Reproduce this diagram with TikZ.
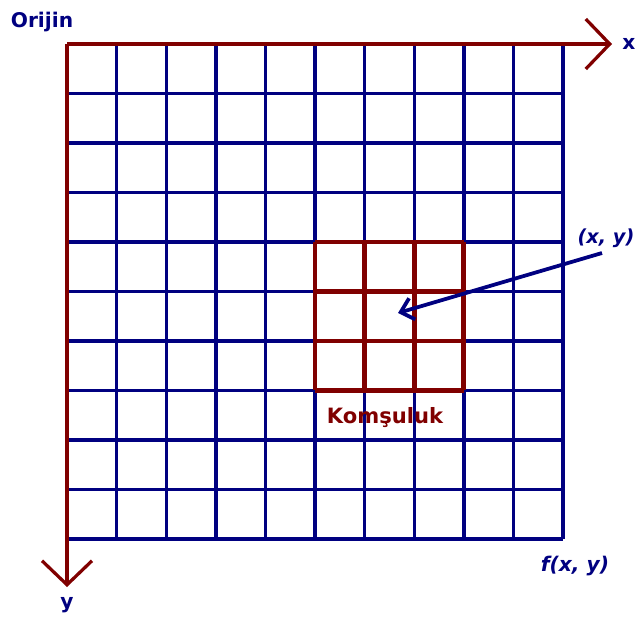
\documentclass[tikz,border=0pt]{standalone}
\usepackage{fontspec}
\setmainfont{DejaVu Sans}
\usetikzlibrary{arrows.meta,positioning}
\definecolor{gridblue}{RGB}{0,0,128}
\definecolor{axisred}{RGB}{128,0,0}

\begin{document}
\begin{tikzpicture}[
  x=0.02cm, y=-0.02cm,
  gridline/.style={draw=gridblue, line width=0.068cm},
  nbline/.style={draw=axisred, line width=0.095cm},
  axis/.style={axisred, line width=0.065cm,
               -{Straight Barb[length=0.48cm, width=1cm]}},
  pointer/.style={gridblue, line width=0.075cm,
                  -{Straight Barb[length=0.24cm, width=0.44cm]}},
  lbl/.style={font=\fontsize{11.5}{13}\selectfont\bfseries, inner sep=0pt,
              text=gridblue},
]
  \useasboundingbox (0,0) rectangle (636,619);

  % ── IMAGE GRID ──
  \foreach \i in {0,...,10} {
    \draw[gridline] ({67+\i*49.6},44) -- ({67+\i*49.6},539);
    \draw[gridline] (67,{44+\i*49.5}) -- (563,{44+\i*49.5});
  }

  % ── NEIGHBOURHOOD 3x3 ──
  \foreach \i in {0,...,3} {
    \draw[nbline] ({315+\i*49.6},242) -- ({315+\i*49.6},390);
    \draw[nbline] (315,{242+\i*49.5}) -- (464,{242+\i*49.5});
  }
  \coordinate (nbsouth) at (385,390);
  \coordinate (centre) at (398,313);

  % ── AXES ──
  \coordinate (origin) at (67,44);
  \coordinate (xend) at (612,44);
  \coordinate (yend) at (67,587);
  \draw[axis] (origin) -- (xend);
  \draw[axis] (origin) -- (yend);

  % Labels
  \node[lbl, anchor=base] (orijin) at (42,27) {Orijin};
  \node[lbl, right=0.2cm of xend] (xlbl) {x};
  \node[lbl, below=0.2cm of yend] (ylbl) {y};
  \node[lbl, anchor=base] (fxy) at (575,571) {\itshape f(x, y)};
  \node[lbl, anchor=base, font=\fontsize{11}{13}\selectfont\bfseries]
    (xy) at (606,243) {\itshape (x, y)};
  \node[lbl, text=axisred, font=\fontsize{12}{14}\selectfont\bfseries,
        below=0.34cm of nbsouth] (komsu) {Komşuluk};

  % Pointer to the centre pixel
  \coordinate (xytail) at (602,253);
  \draw[pointer] (xytail) -- (centre);
\end{tikzpicture}
\end{document}
